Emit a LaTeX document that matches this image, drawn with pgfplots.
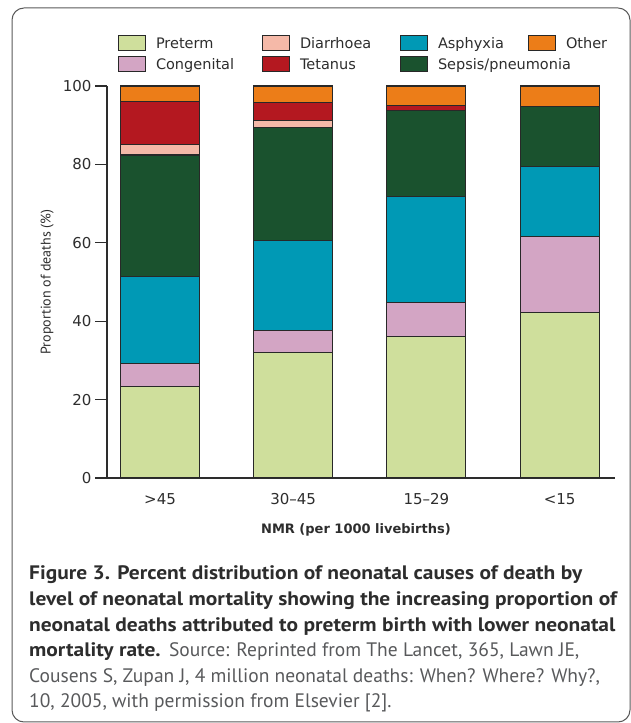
\documentclass[border=0pt]{standalone}
\usepackage{pgfplots}
\pgfplotsset{compat=1.18}
\usepackage{fontspec}
\setmainfont{DejaVu Sans}
\newfontfamily\capfont[FakeStretch=1.1]{PT Sans}
\newfontfamily\capreg{PT Sans}
\newfontfamily\ylabfont{PT Sans}
\definecolor{cpre}{RGB}{207,223,156}
\definecolor{ccon}{RGB}{211,165,196}
\definecolor{casp}{RGB}{0,153,181}
\definecolor{csep}{RGB}{26,82,46}
\definecolor{cdia}{RGB}{245,185,168}
\definecolor{ctet}{RGB}{180,24,32}
\definecolor{coth}{RGB}{236,125,24}
\definecolor{ctxt}{RGB}{45,45,45}
\definecolor{cgray}{RGB}{88,89,91}
\definecolor{cedge}{RGB}{40,40,40}
\begin{document}
\begin{tikzpicture}[x=1bp,y=1bp]
\useasboundingbox (0,0) rectangle (631,723);
\draw[rounded corners=12bp, color=black!65, line width=1bp] (12,715) rectangle (630,1);
\begin{axis}[
  scale only axis, width=508bp, height=392bp,
  at={(107bp,245bp)}, anchor=south west,
  xmin=-0.398, xmax=3.416, ymin=0, ymax=100,
  enlarge x limits=false, enlarge y limits=false,
  axis lines=left,
  axis line style={-, line width=1.2bp, draw=ctxt},
  ybar stacked, bar width=79bp,
  xtick={0,1,2,3},
  xticklabels={>45, 30–45, 15–29, <15},
  x tick style={draw=none},
  ytick={0,20,40,60,80,100},
  /pgf/number format/assume math mode=true,
  tick align=outside, major tick length=12bp,
  y tick style={line width=1.2bp, draw=ctxt},
  tick label style={font=\fontsize{15bp}{18bp}\selectfont, text=ctxt},
  ylabel={\ylabfont\fontsize{14bp}{16bp}\selectfont Proportion of deaths (\%)},
  every axis y label/.append style={at={(axis description cs:-0.118,0.5)}, anchor=center, text=ctxt},
  xlabel={\fontsize{13bp}{16bp}\selectfont\bfseries NMR (per 1000 livebirths)},
  every axis x label/.append style={at={(axis description cs:0.49,-0.133)}, anchor=center, text=ctxt},
  legend columns=4,
  legend cell align=left,
  legend image code/.code={\draw[#1, line width=1bp] (0bp,-7.5bp) rectangle (27bp,7.5bp);},
  legend style={draw=none, fill=none, at={(axis description cs:0.02165,1.1288)}, anchor=north west,
    inner sep=0pt, outer sep=0pt, row sep=5bp, column sep=0pt,
    nodes={inner sep=0pt, font=\fontsize{14.5bp}{17bp}\selectfont, text=ctxt},
    /tikz/every odd column/.append style={column sep=10bp}},
  every axis plot/.append style={draw=cedge, line width=1.1bp},
]
\addlegendimage{fill=cpre, draw=cedge}\addlegendentry{\makebox[106bp][l]{Preterm}}
\addlegendimage{fill=cdia, draw=cedge}\addlegendentry{\makebox[100bp][l]{Diarrhoea}}
\addlegendimage{fill=casp, draw=cedge}\addlegendentry{\makebox[90bp][l]{Asphyxia}}
\addlegendimage{fill=coth, draw=cedge}\addlegendentry{Other}
\addlegendimage{fill=ccon, draw=cedge}\addlegendentry{\makebox[106bp][l]{Congenital}}
\addlegendimage{fill=ctet, draw=cedge}\addlegendentry{\makebox[100bp][l]{Tetanus}}
\addlegendimage{fill=csep, draw=cedge}\addlegendentry{\makebox[90bp][l]{Sepsis/pneumonia}}
% Preterm
\addplot[fill=cpre] coordinates {(0,23.3) (1,32.0) (2,36.1) (3,42.3)};
% Congenital
\addplot[fill=ccon] coordinates {(0,5.8) (1,5.6) (2,8.7) (3,19.3)};
% Asphyxia
\addplot[fill=casp] coordinates {(0,22.4) (1,22.9) (2,27.0) (3,17.8)};
% Sepsis/pneumonia
\addplot[fill=csep] coordinates {(0,30.9) (1,28.9) (2,21.9) (3,15.3)};
% Diarrhoea
\addplot[fill=cdia] coordinates {(0,2.6) (1,1.8) (2,0) (3,0)};
% Tetanus
\addplot[fill=ctet] coordinates {(0,11.0) (1,4.5) (2,1.4) (3,0)};
% Other
\addplot[fill=coth] coordinates {(0,4.0) (1,4.3) (2,4.9) (3,5.3)};
\end{axis}
\node[anchor=base west, inner sep=0pt] at (29,143) {\parbox[t]{640bp}{\raggedright\fontsize{19.5bp}{25.6bp}\selectfont\leavevmode\color{cgray}%
{\capfont\color{ctxt}\bfseries Figure 3. Percent distribution of neonatal causes of death by}\\
{\capfont\color{ctxt}\bfseries level of neonatal mortality showing the increasing proportion of}\\
{\capfont\color{ctxt}\bfseries neonatal deaths attributed to preterm birth with lower neonatal}\\
{\capfont\color{ctxt}\bfseries mortality rate.} {\capreg Source: Reprinted from The Lancet, 365, Lawn JE,}\\
{\capreg Cousens S, Zupan J, 4 million neonatal deaths: When? Where? Why?,}\\
{\capreg 10, 2005, with permission from Elsevier [2].}}};
\end{tikzpicture}
\end{document}
